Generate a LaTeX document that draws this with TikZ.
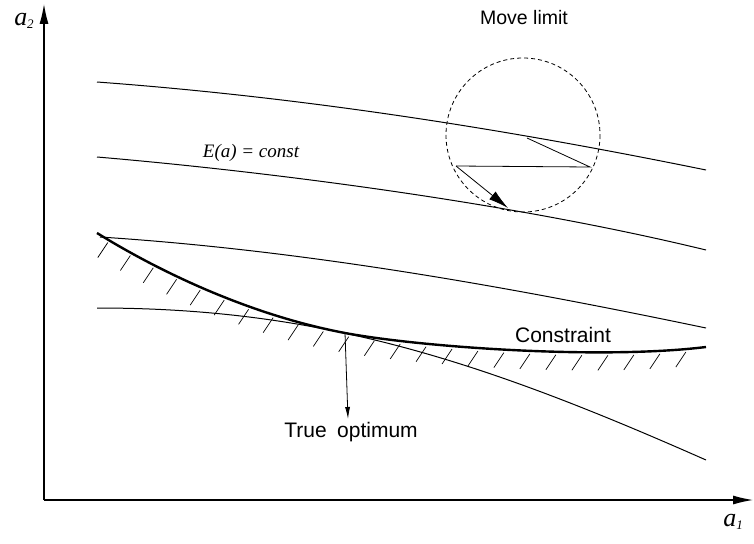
\documentclass[tikz,border=0pt]{standalone}
\usepackage{fontspec}
\setmainfont{Liberation Sans}
\newfontfamily\timesfont{Liberation Serif}
\usetikzlibrary{arrows.meta,decorations.markings}

\begin{document}
\begin{tikzpicture}[x=1pt, y=-1pt,
  curve/.style={line width=1pt},
  axis/.style={line width=1.2pt, -{Latex[length=20pt,width=9pt]}},
  label/.style={font=\fontsize{19.5}{19.5}\selectfont},
  biglabel/.style={font=\fontsize{21}{21}\selectfont},
  axlabel/.style={font=\timesfont\itshape\fontsize{26}{26}\selectfont},
  hatched/.style={
    decoration={markings,
      mark=between positions 0.02 and 0.99 step 26pt with {
        \pgftransformresetnontranslations
        \draw[line width=0.7pt] (0pt,-3pt) -- (-10pt,-18pt);}},
    postaction={decorate}}]

\useasboundingbox (0,0) rectangle (754,543);

% Eixos

\coordinate (origin) at (44,500);
\coordinate (xend) at (753,500);
\coordinate (yend) at (44,4);

\draw[axis] (origin) -- (xend);

\draw[axis] (origin) -- (yend);

\node[axlabel] (a1) at (733,522) {a\raisebox{-0.25ex}{\fontsize{13}{13}\selectfont 1}};

\node[axlabel] (a2) at (24,21) {a\raisebox{-0.25ex}{\fontsize{13}{13}\selectfont 2}};

% Corbes E(a) = const

\draw[curve] (97,82) .. controls (300,97) and (500,128) .. (706,170);

\draw[curve] (97,157) .. controls (250,170) and (500,200) .. (706,250);

\draw[curve] (100,237) .. controls (300,250) and (500,285) .. (706,328);

\draw[curve] (97,308) .. controls (320,308) and (480,360) .. (706,460);

\node[font=\timesfont\itshape\fontsize{19}{19}\selectfont] (econst) at (251,153) {E(a) = const};

% Restriccio

\draw[
    line width=2.4pt,
    hatched
] (97,233)
  .. controls (160,272) and (250,315) .. (345,333)
  .. controls (420,347) and (600,360) .. (706,347);

\node[biglabel] (constr) at (563,335) {Constraint};

% Optim

\coordinate (opt) at (345,333);
\coordinate (optend) at (348,419);

\draw[line width=0.8pt, -{Latex[length=12pt,width=5pt]}] (opt) -- (optend);

\node[biglabel] (trueopt) at (351,432) {True\hspace{0.5em}optimum};

% Limit de moviment

\draw[line width=0.8pt, dash pattern=on 4pt off 3pt] (523,135) circle (77);

\node[label] (move) at (524,18) {Move limit};

\coordinate (p0) at (527,138);
\coordinate (p1) at (590,167);
\coordinate (p2) at (456,166);
\coordinate (p3) at (508,208);

\draw[line width=0.8pt] (p0) -- (p1) -- (p2);

\draw[line width=0.8pt, -{Latex[length=20pt,width=10pt]}] (p2) -- (p3);

\end{tikzpicture}
\end{document}
